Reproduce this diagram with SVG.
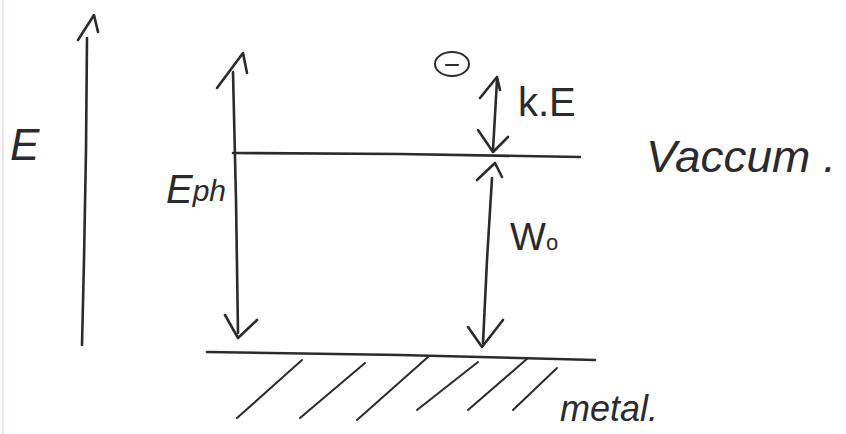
<svg xmlns="http://www.w3.org/2000/svg" width="846" height="434" viewBox="0 0 846 434">
<style>
.ln{fill:none;stroke:#2b2a2c;stroke-width:2.6;stroke-linecap:round;stroke-linejoin:round}
.thin{fill:none;stroke:#2b2a2c;stroke-width:2;stroke-linecap:round}
.t{font-family:"Liberation Sans",Arial,sans-serif;fill:#2b2a2c}
</style>
<rect width="846" height="434" fill="#ffffff"/>
<line x1="3" y1="0" x2="3" y2="434" stroke="#f1e1e4" stroke-width="2"/>
<g id="energy-axis">
<path class="ln" d="M82,345 L84,260 L86,150 L87,38"/>
<path class="ln" d="M78,40 L94,15 L98,32"/>
<text class="t" x="10" y="160" font-size="44" font-style="italic">E</text>
</g>
<g id="vacuum-level">
<path class="ln" d="M233,153 L400,154 L580,157"/>
<text class="t" x="646" y="172" font-size="44" font-style="italic" textLength="190" lengthAdjust="spacingAndGlyphs">Vaccum .</text>
</g>
<g id="metal-level">
<path class="ln" d="M207,352 L400,355 L595,360"/>
<g class="thin">
<line x1="302" y1="360" x2="237" y2="418"/>
<line x1="365" y1="363" x2="300" y2="418"/>
<line x1="428" y1="357" x2="357" y2="420"/>
<line x1="478" y1="362" x2="417" y2="410"/>
<line x1="528" y1="358" x2="468" y2="410"/>
<line x1="557" y1="368" x2="513" y2="410"/>
</g>
<text class="t" x="560" y="421" font-size="36" font-style="italic">metal.</text>
</g>
<g id="electron">
<ellipse class="thin" cx="452" cy="64" rx="17" ry="12"/>
<text class="t" x="452" y="74" font-size="28" text-anchor="middle">−</text>
</g>
<g id="connectors">
<g id="eph-arrow">
<path class="ln" d="M233,72 L236,200 L238,333"/>
<path class="ln" d="M217,88 L243,53 L247,73"/>
<path class="ln" d="M225,315 L238,338 L257,320"/>
</g>
<g id="ke-arrow">
<path class="ln" d="M497,80 L493,150"/>
<path class="ln" d="M480,98 L497,77 L500,90"/>
<path class="ln" d="M478,130 L493,152 L508,137"/>
</g>
<g id="w0-arrow">
<path class="ln" d="M492,178 L487,260 L483,343"/>
<path class="ln" d="M477,180 L495,163 L502,177"/>
<path class="ln" d="M468,327 L482,347 L503,320"/>
</g>
</g>
<g id="labels">
<text class="t" x="166" y="203" font-size="40" font-style="italic">E<tspan font-size="30" dy="-2">ph</tspan></text>
<text class="t" x="518" y="116" font-size="40">k.E</text>
<text class="t" x="510" y="250" font-size="38">W<tspan font-size="22">o</tspan></text>
</g>
</svg>
